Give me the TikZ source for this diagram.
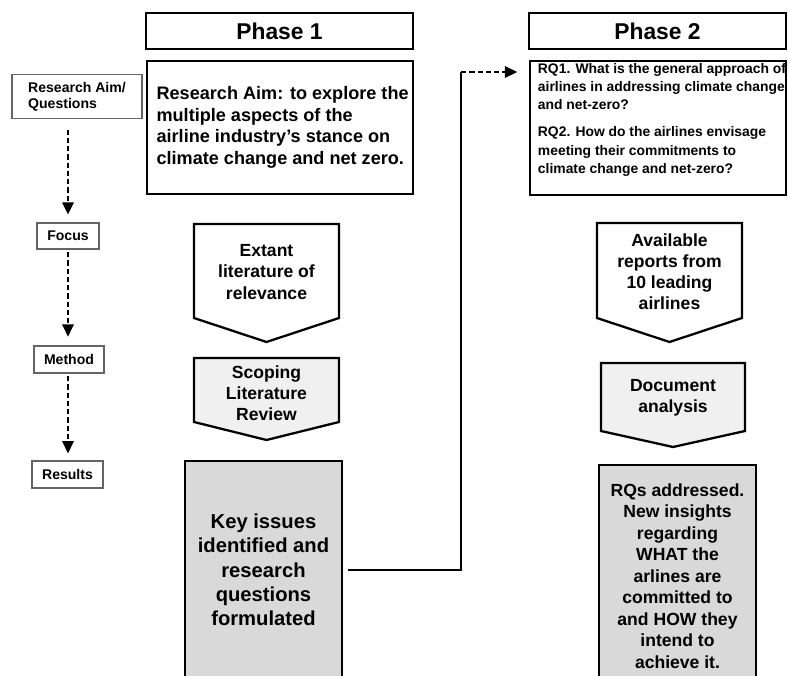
\documentclass[tikz,border=0pt]{standalone}
\usepackage{fontspec}
\setmainfont{Liberation Sans}
\usetikzlibrary{arrows.meta, positioning, calc}
\definecolor{KeyGray}{RGB}{217,217,217}
\definecolor{StepGray}{RGB}{240,240,240}
\definecolor{TagEdge}{RGB}{100,100,100}
\newcommand{\bfs}[2]{\fontsize{#1}{#2}\selectfont\bfseries}

\begin{document}
\begin{tikzpicture}[x=0.02cm, y=-0.02cm,
          phase/.style={rectangle, draw, line width=1.6pt, inner sep=0pt,
                        font=\bfs{13}{15}},
          bigbox/.style={rectangle, draw, line width=1.6pt, inner sep=0pt,
                         align=left},
          rqtxt/.style={inner sep=0pt, align=left, font=\bfs{7.9}{10.5}},
          tag/.style={rectangle, draw=TagEdge, line width=0.6pt, inner sep=0pt,
                      align=left, font=\bfs{8}{9.3}},
          chev/.style={draw, line width=1.3pt},
          chevtxt/.style={align=center, font=\bfs{10}{12}},
          result/.style={rectangle, draw, line width=1.5pt, fill=KeyGray,
                         inner sep=0pt, align=center},
          dasharr/.style={-{Triangle[length=7pt, width=6.5pt]}, line width=1.1pt,
                          dash pattern=on 3pt off 1.7pt},
          link/.style={line width=1pt}
        ]
        \useasboundingbox (0,0) rectangle (788,676);

        % Phase headers
        \node[phase, minimum width=5.34cm, minimum height=0.72cm] (ph1) at (279.5,31) {Phase 1};
        \node[phase, minimum width=5.14cm, minimum height=0.72cm] (ph2) at (657.5,31) {Phase 2};

        % Left column tags
        \node[tag, minimum width=2.6cm, minimum height=0.88cm] (aimtag) at (77,96.5) {Research Aim/\\Questions};
        \node[tag, minimum width=1.24cm, minimum height=0.52cm] (focus) at (68,236) {Focus};
        \node[tag, minimum width=1.4cm, minimum height=0.54cm] (method) at (69,359.5) {Method};
        \node[tag, minimum width=1.42cm, minimum height=0.54cm] (results) at (67.5,474.5) {Results};

        % Aim and questions
        \node[bigbox, minimum width=5.32cm, minimum height=2.66cm, font=\bfs{10.3}{12.3}] (aim) at (280,127.5)
              {\hspace*{3pt}Research Aim: to explore the\\\hspace*{3pt}multiple aspects of the\\\hspace*{3pt}airline industry’s stance on\\\hspace*{3pt}climate change and net zero.};
        \node[bigbox, minimum width=5.12cm, minimum height=2.68cm] (rq) at (658,128) {};
        \node[rqtxt, anchor=north west] (rqtext) at ($(rq.north west)+(9,3)$)
              {RQ1. What is the general approach of\\airlines in addressing climate change\\and net-zero?\\[4.9pt]
               RQ2. How do the airlines envisage\\meeting their commitments to\\climate change and net-zero?};

        % Phase 1 chevrons
        \draw[chev] (194,224) -- (339,224) -- (339,318) -- (266.5,342) -- (194,318) -- cycle;
        \node[chevtxt] (extant) at (266.5,272) {Extant\\literature of\\relevance};
        \draw[chev, fill=StepGray] (194,358) -- (339,358) -- (339,422) -- (266.5,440) -- (194,422) -- cycle;
        \node[chevtxt] (scoping) at (266.5,393) {Scoping\\Literature\\Review};

        % Phase 2 chevrons
        \draw[chev] (597,223) -- (742,223) -- (742,318) -- (669.5,342) -- (597,318) -- cycle;
        \node[chevtxt] (reports) at (669.5,272) {Available\\reports from\\10 leading\\airlines};
        \draw[chev, fill=StepGray] (601,363) -- (745,363) -- (745,431) -- (673,447) -- (601,431) -- cycle;
        \node[chevtxt] (docan) at (673,397.5) {Document\\analysis};

        % Results
        \node[result, minimum width=3.14cm, minimum height=4.36cm, font=\bfs{11.5}{13.8}] (keys) at (263.5,570)
              {Key issues\\identified and\\research\\questions\\formulated};
        \node[result, minimum width=3.14cm, minimum height=4.44cm, font=\bfs{10}{12.2}] (addr) at (677.5,576)
              {RQs addressed.\\New insights\\regarding\\WHAT the\\arlines are\\committed to\\and HOW they\\intend to\\achieve it.};

        % Arrows
        \draw[dasharr, shorten <=6pt, shorten >=4.5pt] (aimtag.south -| focus.north) -- (focus.north);
        \draw[dasharr, shorten <=1.5pt, shorten >=5pt] (focus.south) -- (method.north -| focus.south);
        \draw[dasharr, shorten <=1.5pt, shorten >=4pt] (method.south -| focus.south) -- (results.north -| focus.south);

        \coordinate (turn) at (461,72);
        \draw[link, shorten <=2.8pt] (keys.east) -| (turn);
        \draw[dasharr, shorten >=6.5pt] (turn) -- (rq.west |- turn);
      \end{tikzpicture}
\end{document}
